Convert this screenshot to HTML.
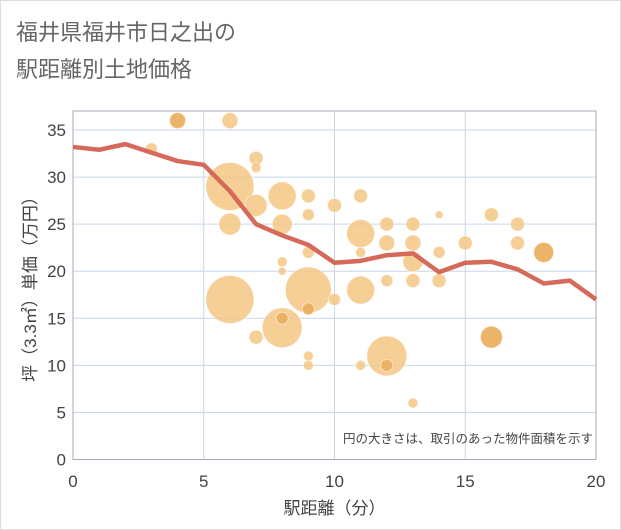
<!DOCTYPE html>
<html><head><meta charset="utf-8"><style>
body{margin:0;background:#fff;font-family:"Liberation Sans","Noto Sans CJK JP",sans-serif;}
</style></head><body>
<svg width="621" height="530" xmlns="http://www.w3.org/2000/svg" style="display:block;font-family:'Liberation Sans','Noto Sans CJK JP',sans-serif">
<rect x="0.5" y="0.5" width="620" height="529" fill="#fff" stroke="#ddd"/>
<text x="16" y="40" font-size="22" fill="#666">福井県福井市日之出の</text>
<text x="16" y="77" font-size="22" fill="#666">駅距離別土地価格</text>
<g id="plot"></g>
</svg>
<script>
const lineX=[0,1,2,3,4,5,6,7,8,9,10,11,12,13,14,15,16,17,18,19,20];
const lineY=[33.2,32.9,33.5,32.6,31.7,31.3,28.5,25,23.8,22.8,20.9,21.1,21.7,21.9,19.9,20.9,21.0,20.2,18.7,19.0,17.0];
const bubX=[4,6,3,7,7,6,8,7,9,10,11,6,8,9,11,12,13,14,16,17,12,13,15,17,18,11,9,14,13,8,8,6,9,11,10,12,13,14,8,7,16,12,9,9,11,13,9,8,12];
const bubY=[36,36,33,32,31,29,28,27,28,27,28,25,25,26,24,25,25,26,26,25,23,23,23,23,22,22,22,22,21,21,20,17,18,18,17,19,19,19,14,13,13,11,11,10,10,6,16,15,10];
const bubR=[8,8,6,7,5,24,14,11,7,7,7,11,10,6,14,7,7,4,7,7,8,8,7,7,10,5,6,6,10,5,4,24,23,14,6,6,7,7,20,7,11,20,5,5,5,5,6,6,6];
const bubDark=[1,0,0,0,0,0,0,0,0,0,0,0,0,0,0,0,0,0,0,0,0,0,0,0,1,0,0,0,0,0,0,0,0,0,0,0,0,0,0,0,1,0,0,0,0,0,1,1,1];
const xTicks=[0,5,10,15,20];
const yTicks=[0,5,10,15,20,25,30,35];
const L=73,R=596,T=111,B=459.5;
const sx=v=>L+(v-0)/20*(R-L);
const sy=v=>B-v*(B-130)/35;
const NS="http://www.w3.org/2000/svg";
const g=document.getElementById('plot');
function mk(t,a){const e=document.createElementNS(NS,t);for(const k in a)e.setAttribute(k,a[k]);g.appendChild(e);return e;}
xTicks.forEach(v=>{const e=mk('line',{x1:sx(v),x2:sx(v),y1:T,y2:B,stroke:'#c8d6e8','stroke-width':1});

const t=mk('text',{x:sx(v),y:487,'font-size':17,fill:'#444','text-anchor':'middle'});t.textContent=v;
});
yTicks.forEach(v=>{const e=mk('line',{x1:L,x2:R,y1:sy(v),y2:sy(v),stroke:'#c8d6e8','stroke-width':1});

const t=mk('text',{x:66,y:sy(v)+6,'font-size':17,fill:'#444','text-anchor':'end'});t.textContent=v;
});
const fr=mk('rect',{x:L,y:T,width:R-L,height:B-T,fill:'none',stroke:'#aab'});

bubX.forEach((x,i)=>{const c=mk('circle',{cx:sx(x),cy:sy(bubY[i]),r:bubR[i],fill:bubDark[i]?'#ebb060':'#f3c784','fill-opacity':bubDark[i]?0.95:0.85,stroke:'#fff','stroke-opacity':0.5,'stroke-width':1});
});
const ln=mk('polyline',{points:lineX.map((x,i)=>sx(x)+','+sy(lineY[i])).join(' '),fill:'none',stroke:'#d5695a','stroke-width':4.5,'stroke-linejoin':'round'});

const note=mk('text',{x:593,y:443,'font-size':12.5,fill:'#444','text-anchor':'end'});note.textContent='円の大きさは、取引のあった物件面積を示す';

const xt=mk('text',{x:sx(10),y:514,'font-size':17,fill:'#444','text-anchor':'middle'});xt.textContent='駅距離（分）';

const yt=mk('text',{x:0,y:0,'font-size':17,fill:'#444','text-anchor':'middle',transform:'translate(36,285) rotate(-90)'});yt.textContent='坪（3.3㎡）単価（万円）';

</script>
</body></html>
